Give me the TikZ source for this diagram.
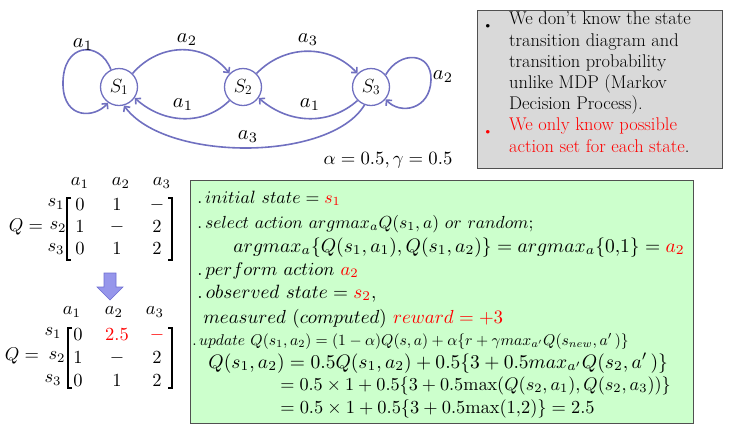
\RequirePackage{fix-cm}
\documentclass[tikz,border=0pt]{standalone}
\usepackage{amsmath}
\usetikzlibrary{arrows.meta}
\definecolor{edgec}{RGB}{112,112,192}
\definecolor{grayfill}{RGB}{217,217,217}
\definecolor{greenfill}{RGB}{204,255,204}
\definecolor{boxline}{RGB}{80,80,80}
\definecolor{arrfill}{RGB}{150,150,235}
\definecolor{arrdraw}{RGB}{110,110,210}
\begin{document}
\begin{tikzpicture}[x=1pt,y=1pt,
  state/.style={circle, draw=edgec, line width=1.3pt, minimum size=37pt, inner sep=0pt, fill=white, font=\fontsize{19}{22}\selectfont},
  edge/.style={draw=edgec, line width=1.6pt, -{Straight Barb[length=4pt,width=8pt]}},
  lbl/.style={font=\normalsize, scale=2.05, inner sep=0.5pt},
  gline/.style={anchor=base west, inner sep=0pt, font=\normalsize, scale=1.95},
  mtx/.style={font=\normalsize, scale=1.85, inner sep=0pt},
  brk/.style={line width=1.1pt},
]
\useasboundingbox (0,0) rectangle (745,-440);
% states
\node[state] (s1) at (119,-87) {$S_1$};
\node[state] (s2) at (243,-87) {$S_2$};
\node[state] (s3) at (371,-87) {$S_3$};
% edges
\draw[edge] (s1.115) .. controls (100,-40) and (62,-42) .. (63,-85) .. controls (64,-120) and (95,-118) .. (s1.235);
\draw[edge] (s1.45) .. controls (160,-42) and (205,-42) .. (s2.135);
\draw[edge] (s2.45) .. controls (285,-44) and (330,-44) .. (s3.135);
\draw[edge] (s2.225) .. controls (205,-125) and (165,-125) .. (s1.-35);
\draw[edge] (s3.225) .. controls (330,-125) and (290,-125) .. (s2.-35);
\draw[edge] (s3.250) .. controls (330,-162) and (165,-162) .. (s1.-75);
\draw[edge] (s3.40) .. controls (400,-50) and (432,-52) .. (431,-80) .. controls (430,-110) and (400,-115) .. (s3.-40);
% edge labels
\node[lbl] (la1) at (83,-45) {$a_1$};
\node[lbl] (lb2) at (187,-40) {$a_2$};
\node[lbl] (lc3) at (308,-40) {$a_3$};
\node[lbl] (ld1) at (183,-105) {$a_1$};
\node[lbl] (le1) at (310,-105) {$a_1$};
\node[lbl] (lf3) at (248,-137) {$a_3$};
\node[lbl] (lg2) at (443,-77) {$a_2$};
% parameters
\node[font=\normalsize, scale=1.87] (par) at (388,-160) {$\alpha = 0.5, \gamma = 0.5$};
% gray box
\node[draw=boxline, line width=0.8pt, fill=grayfill, minimum width=245pt, minimum height=158pt, anchor=north west] (gbox) at (477,-10) {};
\node[anchor=north west, inner sep=0pt, align=left, font=\fontsize{18.4}{21.2}\selectfont] (btxt) at (509,-12)
 {We don't know the state\\transition diagram and\\transition probability\\unlike MDP (Markov\\Decision Process).\\\textcolor{red}{We only know possible}\\\textcolor{red}{action set for each state}.};
\node[font=\fontsize{16}{18}\selectfont] (bul1) at (488,-27) {\textbullet};
\node[font=\fontsize{16}{18}\selectfont, text=red] (bul2) at (488,-133) {\textbullet};
% upper matrix
\node[mtx] (qa) at (26,-227) {$Q =$};
\node[mtx] (ha1) at (80,-183) {$a_1$};
\node[mtx] (ha2) at (121,-183) {$a_2$};
\node[mtx] (ha3) at (162,-183) {$a_3$};
\node[mtx] (ra1) at (56,-204) {$s_1$};
\node[mtx] (ra2) at (58,-227) {$s_2$};
\node[mtx] (ra3) at (56,-249) {$s_3$};
\node[mtx] (e11) at (80,-205) {$0$};
\node[mtx] (e12) at (117,-205) {$1$};
\node[mtx] (e13) at (157,-205) {$-$};
\node[mtx] (e21) at (80,-227) {$1$};
\node[mtx] (e22) at (117,-227) {$-$};
\node[mtx] (e23) at (157,-227) {$2$};
\node[mtx] (e31) at (80,-249) {$0$};
\node[mtx] (e32) at (117,-249) {$1$};
\node[mtx] (e33) at (157,-249) {$2$};
\draw[brk] (71,-198) -- (67,-198) -- (67,-260) -- (71,-260);
\draw[brk] (168,-198) -- (172,-198) -- (172,-260) -- (168,-260);
% block arrow
\draw[fill=arrfill, draw=arrdraw, line width=0.6pt] (104,-273) -- (116,-273) -- (116,-287) -- (123,-287) -- (110,-300) -- (97,-287) -- (104,-287) -- cycle;
% lower matrix
\node[mtx] (qb) at (22,-356) {$Q =$};
\node[mtx] (hb1) at (72,-312) {$a_1$};
\node[mtx] (hb2) at (114,-312) {$a_2$};
\node[mtx] (hb3) at (155,-312) {$a_3$};
\node[mtx] (rb1) at (53,-333) {$s_1$};
\node[mtx] (rb2) at (57,-357) {$s_2$};
\node[mtx] (rb3) at (53,-380) {$s_3$};
\node[mtx] (f11) at (78,-335) {$0$};
\node[mtx, text=red] (f12) at (117,-335) {$2.5$};
\node[mtx, text=red] (f13) at (157,-335) {$-$};
\node[mtx] (f21) at (78,-358) {$1$};
\node[mtx] (f22) at (117,-358) {$-$};
\node[mtx] (f23) at (157,-358) {$2$};
\node[mtx] (f31) at (78,-381) {$0$};
\node[mtx] (f32) at (117,-381) {$1$};
\node[mtx] (f33) at (157,-381) {$2$};
\draw[brk] (72,-328) -- (68,-328) -- (68,-388) -- (72,-388);
\draw[brk] (168,-328) -- (172,-328) -- (172,-388) -- (168,-388);
% green box
\node[draw=boxline, line width=0.8pt, fill=greenfill, minimum width=503pt, minimum height=243pt, anchor=north west] (gbx) at (190,-180) {};
\node[gline, scale=1.78/1.95] (l1) at (197,-203) {$.\,initial\ state = {\color{red}s_1}$};
\node[gline, scale=1.75/1.95] (l2) at (197,-228) {$.\,select\ action\ argmax_aQ(s_1,a)\ or\ random;$};
\node[gline] (l3) at (233,-252) {$argmax_a\{Q(s_1,a_1),Q(s_1,a_2)\} = argmax_a\{0{,}1\} = {\color{red}a_2}$};
\node[gline, scale=1.85/1.95] (l4) at (197,-275) {$.\,perform\ action\ {\color{red}a_2}$};
\node[gline, scale=1.92/1.95] (l5) at (197,-298) {$.\,observed\ state = {\color{red}s_2},$};
\node[gline, scale=1.89/1.95] (l6) at (203,-323) {$measured\ (computed)\ {\color{red}reward = +3}$};
\node[gline, scale=1.56/1.95] (l7) at (192,-345) {$.\,update\ Q(s_1,a_2) = (1-\alpha)Q(s,a) + \alpha\{r+\gamma max_{a'}Q(s_{new},a'\,)\}$};
\node[gline] (l8) at (208,-368) {$Q(s_1,a_2) = 0.5Q(s_1,a_2) + 0.5\{3+0.5max_{a'}Q(s_2,a'\,)\}$};
\node[gline, scale=1.82/1.95] (l9) at (280,-390) {$= 0.5\times 1 + 0.5\{3+0.5\mathrm{max}(Q(s_2,a_1),Q(s_2,a_3))\}$};
\node[gline, scale=1.84/1.95] (l10) at (280,-413) {$= 0.5\times 1 + 0.5\{3+0.5\mathrm{max}(1{,}2)\} = 2.5$};
\end{tikzpicture}
\end{document}
